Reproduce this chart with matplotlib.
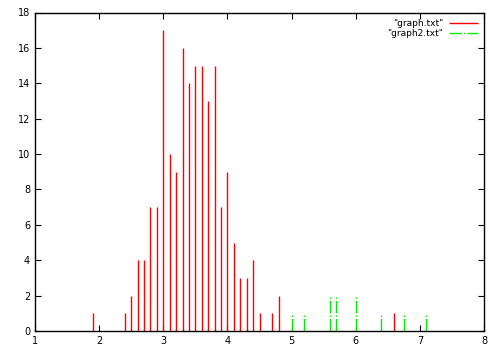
import matplotlib
matplotlib.use("Agg")
import matplotlib.pyplot as plt

# graph.txt (red impulses)
x1 = [1.9, 2.4, 2.5, 2.6, 2.7, 2.8, 2.9, 3.0, 3.1, 3.2, 3.3, 3.4, 3.5,
      3.6, 3.7, 3.8, 3.9, 4.0, 4.1, 4.2, 4.3, 4.4, 4.5, 4.7, 4.8, 6.6]
y1 = [1, 1, 2, 4, 4, 7, 7, 17, 10, 9, 16, 14, 15,
      15, 13, 15, 7, 9, 5, 3, 3, 4, 1, 1, 2, 1]

# graph2.txt (green impulses)
x2 = [5.0, 5.2, 5.6, 5.7, 6.0, 6.4, 6.75, 7.1]
y2 = [1, 1, 2, 2, 2, 1, 1, 1]

xticks = [1, 2, 3, 4, 5, 6, 7, 8]
yticks = [0, 2, 4, 6, 8, 10, 12, 14, 16, 18]

plt.rcParams['font.family'] = ['DejaVu Sans']
fig = plt.figure(figsize=(5.01, 3.51), dpi=100)
ax = fig.add_axes([35 / 501, 1 - 331 / 351, 449 / 501, 318.5 / 351])

ax.vlines(x1, 0, y1, colors='#ff0000', linewidth=1.0, label='"graph.txt"')
ax.vlines(x2, 0, y2, colors='#00ee00', linewidth=1.0,
          linestyles=(0, (9, 1.5, 1, 1.5)), label='"graph2.txt"')

ax.set_xlim(1, 8)
ax.set_ylim(0, 18)
ax.set_xticks(xticks)
ax.set_yticks(yticks)
ax.tick_params(direction='in', top=True, right=True, length=4,
               labelsize=7, width=0.8)
for s in ax.spines.values():
    s.set_linewidth(1.0)

leg = ax.legend(loc='upper right', frameon=False, fontsize=6.5,
                markerfirst=False, handlelength=3.2, handletextpad=0.6,
                labelspacing=0.1, borderaxespad=0.3)

fig.savefig('out.png', dpi=100)
